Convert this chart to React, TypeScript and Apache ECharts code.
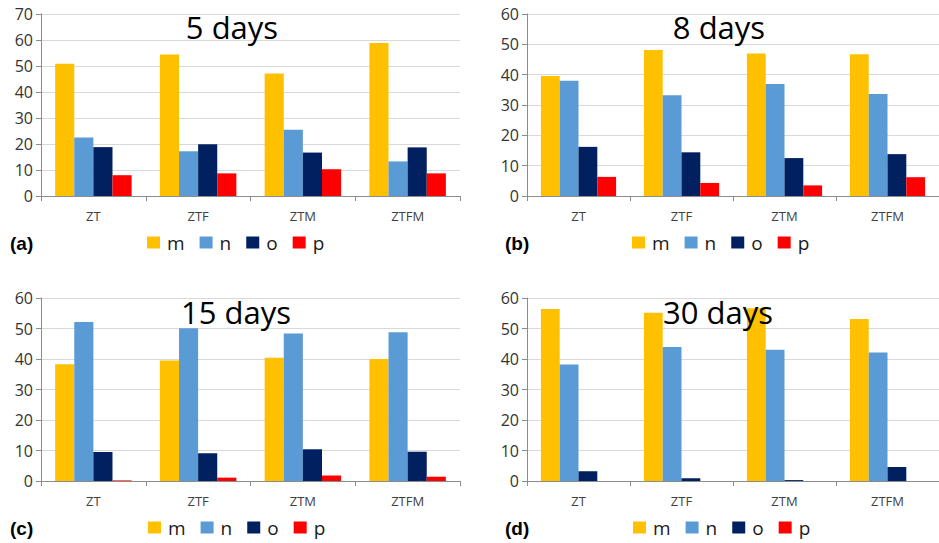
import React, { useEffect, useRef } from "react";
import * as echarts from "echarts";

const categories = ["ZT", "ZTF", "ZTM", "ZTFM"];
const seriesNames = ["m", "n", "o", "p"];
const colors = ["#FFC000", "#5B9BD5", "#002060", "#FF0000"];

// 5 days
const m5 = [50.9, 54.4, 47.1, 58.8];
const n5 = [22.5, 17.2, 25.5, 13.3];
const o5 = [18.8, 19.9, 16.7, 18.7];
const p5 = [8.0, 8.7, 10.3, 8.7];
// 8 days
const m8 = [39.6, 48.1, 47.0, 46.7];
const n8 = [38.0, 33.2, 36.9, 33.6];
const o8 = [16.2, 14.4, 12.5, 13.8];
const p8 = [6.3, 4.3, 3.5, 6.2];
// 15 days
const m15 = [38.3, 39.5, 40.4, 40.0];
const n15 = [52.1, 50.1, 48.4, 48.8];
const o15 = [9.5, 9.1, 10.4, 9.6];
const p15 = [0.2, 1.1, 1.8, 1.4];
// 30 days
const m30 = [56.4, 55.2, 56.6, 53.1];
const n30 = [38.2, 43.9, 43.0, 42.1];
const o30 = [3.2, 0.9, 0.3, 4.6];
const p30 = [0, 0, 0, 0];

const titles = ["5 days", "8 days", "15 days", "30 days"];
const panelLabels = ["(a)", "(b)", "(c)", "(d)"];
const yMax = [70, 60, 60, 60];

export default function App() {
  const ref = useRef<HTMLDivElement>(null);
  useEffect(() => {
    if (!ref.current) return;
    const chart = echarts.init(ref.current, null, { renderer: "svg" });
    const panels = [
      [m5, n5, o5, p5],
      [m8, n8, o8, p8],
      [m15, n15, o15, p15],
      [m30, n30, o30, p30],
    ];
    const gridPos = [
      { left: 41, top: 14 },
      { left: 527, top: 14 },
      { left: 41, top: 298 },
      { left: 527, top: 298 },
    ];
    const grids = gridPos.map((g, i) => ({
      left: g.left,
      top: g.top,
      width: 419,
      height: i < 2 ? 182 : 183,
    }));
    const xAxes = gridPos.map((_, i) => ({
      type: "category",
      gridIndex: i,
      data: categories,
      axisLine: { show: true, lineStyle: { color: "#8c8c8c", width: 1 } },
      axisTick: { show: true, length: 5, interval: 0, lineStyle: { color: "#8c8c8c" } },
      axisLabel: { color: "#404040", fontSize: 13, fontFamily: "Open Sans", margin: 13 },
      splitLine: { show: false },
    }));
    const yAxes = gridPos.map((_, i) => ({
      type: "value",
      gridIndex: i,
      min: 0,
      max: yMax[i],
      interval: 10,
      axisLine: { show: true, lineStyle: { color: "#8c8c8c", width: 1 } },
      axisTick: { show: true, length: 5, lineStyle: { color: "#8c8c8c" } },
      axisLabel: { color: "#333333", fontSize: 16, fontFamily: "Open Sans", margin: 8 },
      splitLine: { show: true, lineStyle: { color: "#d9d9d9", width: 1 } },
    }));
    const series: any[] = [];
    panels.forEach((arrs, pi) => {
      arrs.forEach((vals, si) => {
        series.push({
          type: "bar",
          name: seriesNames[si],
          xAxisIndex: pi,
          yAxisIndex: pi,
          data: vals,
          barGap: "0%",
          barCategoryGap: "27%",
          itemStyle: { color: colors[si] },
          z: 2,
        });
      });
    });
    const legendPos = [
      { left: 147, top: 233 },
      { left: 632, top: 233 },
      { left: 148, top: 518 },
      { left: 633, top: 518 },
    ];
    const legends = legendPos.map((l) => ({
      left: l.left,
      top: l.top,
      orient: "horizontal",
      itemWidth: 13,
      itemHeight: 12,
      itemGap: 15,
      selectedMode: false,
      icon: "rect",
      data: seriesNames,
      textStyle: { color: "#1a1a1a", fontSize: 19, fontFamily: "Open Sans", padding: [0, 0, 0, 2] },
      padding: 0,
    }));
    const titlePos = [
      { x: 232, y: 27 },
      { x: 719, y: 27 },
      { x: 236, y: 312 },
      { x: 718, y: 312 },
    ];
    const labelPos = [
      { x: 10, y: 243 },
      { x: 505, y: 243 },
      { x: 10, y: 528 },
      { x: 505, y: 528 },
    ];
    const graphic: any[] = [];
    titles.forEach((t, i) => {
      graphic.push({
        type: "text",
        x: titlePos[i].x,
        y: titlePos[i].y,
        z: 100,
        style: {
          text: t,
          fill: "#000000",
          font: '31px "Open Sans"',
          textAlign: "center",
          textVerticalAlign: "middle",
        },
      });
    });
    panelLabels.forEach((t, i) => {
      graphic.push({
        type: "text",
        x: labelPos[i].x,
        y: labelPos[i].y,
        z: 100,
        style: {
          text: t,
          fill: "#000000",
          font: 'bold 19px "Liberation Sans"',
          textAlign: "left",
          textVerticalAlign: "middle",
        },
      });
    });
    chart.setOption({
      animation: false,
      backgroundColor: "#ffffff",
      grid: grids,
      xAxis: xAxes,
      yAxis: yAxes,
      legend: legends,
      series,
      graphic,
    });
    return () => chart.dispose();
  }, []);
  return (
    <div
      ref={ref}
      style={{ position: "fixed", left: 0, top: 0, width: 939, height: 543 }}
    />
  );
}
